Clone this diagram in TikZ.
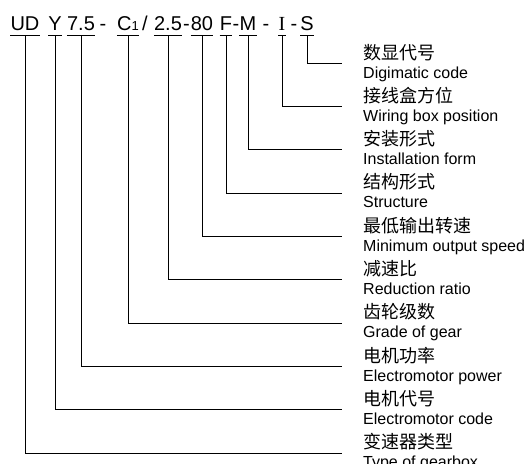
\documentclass[tikz,border=0pt]{standalone}
\usepackage{fontspec}
\setmainfont{Liberation Sans}
\newfontfamily\cjk{Noto Sans CJK SC}
\newfontfamily\serifI{Liberation Serif}
\usetikzlibrary{positioning}

\begin{document}
\begin{tikzpicture}[
    x = 1pt, y = -1pt,
    codebox/.style = {anchor=base, inner xsep=0pt, inner ysep=5pt,
        text depth=0pt, font=\fontsize{20}{20}\selectfont},
    sepmark/.style = {anchor=base, inner sep=0pt, font=\fontsize{20}{20}\selectfont},
    cnlabel/.style = {anchor=base west, inner sep=0pt, font=\cjk\fontsize{18}{18}\selectfont},
    enlabel/.style = {anchor=base west, inner sep=0pt, font=\fontsize{16}{16}\selectfont},
    tokbar/.style = {line width=0.8pt},
    leader/.style = {line width=0.8pt}
  ]
  \useasboundingbox (0,0) rectangle (527,463);

  \foreach \name/\x/\txt in {UD/25/UD, Y/55/Y, P/81/7.5,
      C/128/{C{\fontsize{13}{13}\selectfont 1}}, R/168/2.5, N/202/80,
      F/226/F, M/248/M, I/282/{\serifI I}, S/307/S}
  {
    \node[codebox] (\name) at (\x,30) {\txt};
    \draw[tokbar] (\name.south west) -- (\name.south east);
  }

  \foreach \x/\s [count=\j] in {103/-, 145/{/}, 186.5/-, 236/-, 266/-, 294/-}
  \node[sepmark] (sep-\j) at (\x,30) {\s};

  \foreach \name/\cntext/\entext [count=\i from 0] in {
      S/数显代号/Digimatic code,
      I/接线盒方位/Wiring box position,
      M/安装形式/Installation form,
      F/结构形式/Structure,
      N/最低输出转速/Minimum output speed,
      R/减速比/Reduction ratio,
      C/齿轮级数/Grade of gear,
      P/电机功率/Electromotor power,
      Y/电机代号/Electromotor code,
      UD/变速器类型/Type of gearbox}
  {
    \pgfmathsetmacro\ly{63+43.33*\i}
    \coordinate (end-\name) at (342,\ly);
    \node[cnlabel] (cn-\name) at (363,\ly-4) {\cntext};
    \node[enlabel] (en-\name) at (363,\ly+15) {\entext};
    \draw[leader] (\name.south) |- (end-\name);
  }
\end{tikzpicture}
\end{document}
